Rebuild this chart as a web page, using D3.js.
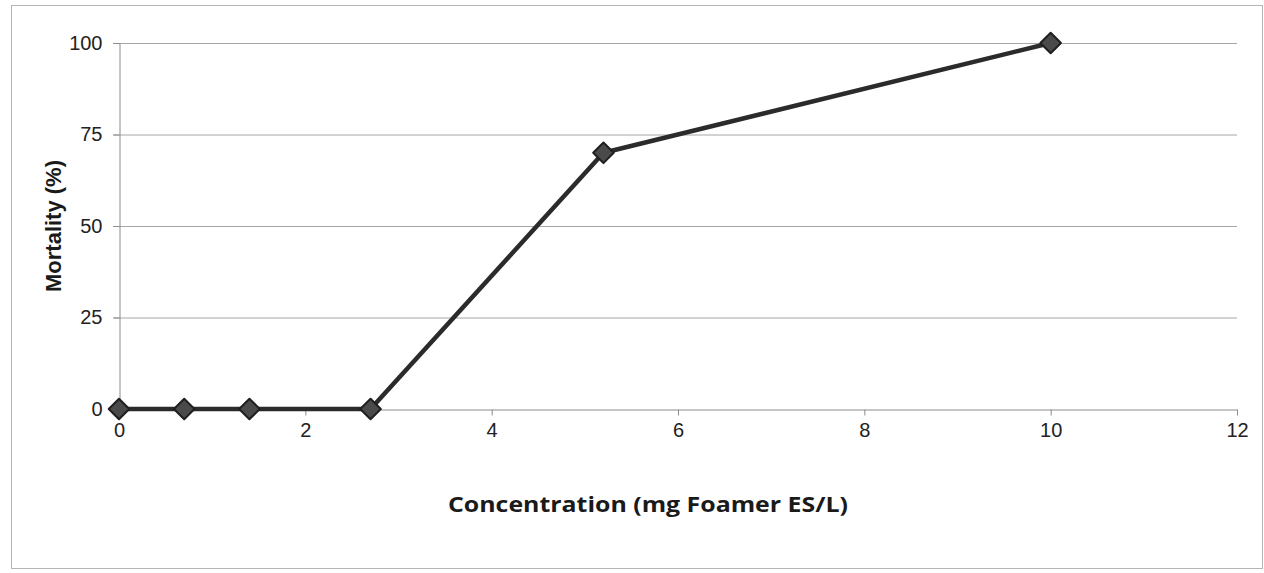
<!DOCTYPE html>
<html><head><meta charset="utf-8">
<script src="https://cdn.jsdelivr.net/npm/d3@7"></script>
<style>
html,body{margin:0;padding:0;background:#fff;}
svg{display:block;}
</style></head>
<body>
<script>
const concentration = [0, 0.7, 1.4, 2.7, 5.2, 10];
const mortality = [0, 0, 0, 0, 70, 100];
const xTicks = [0, 2, 4, 6, 8, 10, 12];
const yTicks = [0, 25, 50, 75, 100];
const xTitle = "Concentration (mg Foamer ES/L)";
const yTitle = "Mortality (%)";

const W = 1264, H = 573;
const svg = d3.select("body").append("svg").attr("width", W).attr("height", H);

// outer frame
svg.append("rect").attr("x", 11.5).attr("y", 5.5).attr("width", 1251).attr("height", 563)
  .attr("fill", "#fff").attr("stroke", "#b5b5b5").attr("stroke-width", 1);

const x = d3.scaleLinear().domain([0, 12]).range([119, 1237]);
const y = d3.scaleLinear().domain([0, 100]).range([409, 43]);

// gridlines
svg.append("g").selectAll("line").data(yTicks.filter(d => d > 0)).join("line")
  .attr("x1", 113).attr("x2", x(12)).attr("y1", d => y(d) + 0.5).attr("y2", d => y(d) + 0.5)
  .attr("stroke", "#a6a6a6").attr("stroke-width", 1);

// y axis
const yAxis = svg.append("g").attr("transform", `translate(${x(0) + 0.5},0)`)
  .call(d3.axisLeft(y).tickValues(yTicks).tickSize(6).tickPadding(11));
yAxis.select(".domain").attr("stroke", "#8c8c8c");
yAxis.selectAll(".tick line").attr("stroke", "#8c8c8c");
yAxis.selectAll("text").attr("font-family", "Liberation Sans, Arial, sans-serif")
  .attr("font-size", 20).attr("fill", "#222");

// x axis
const xAxis = svg.append("g").attr("transform", `translate(0,${y(0) + 0.5})`)
  .call(d3.axisBottom(x).tickValues(xTicks).tickSize(6).tickSizeOuter(0).tickPadding(7));
xAxis.select(".domain").attr("stroke", "#8c8c8c");
xAxis.selectAll(".tick line").attr("stroke", "#8c8c8c");
xAxis.selectAll("text").attr("font-family", "Liberation Sans, Arial, sans-serif")
  .attr("font-size", 20).attr("fill", "#222");

// line
const data = concentration.map((c, i) => ({c, m: mortality[i]}));
svg.append("path").datum(data)
  .attr("d", d3.line().x(d => x(d.c)).y(d => y(d.m)))
  .attr("fill", "none").attr("stroke", "#2b2b2b").attr("stroke-width", 4.5)
  .attr("stroke-linejoin", "round");

// markers
const sym = d3.symbol().type(d3.symbolDiamond2).size(270);
svg.append("g").selectAll("path").data(data).join("path")
  .attr("transform", d => `translate(${x(d.c)},${y(d.m)})`)
  .attr("d", sym)
  .attr("fill", "#4a4a4a").attr("stroke", "#1f1f1f").attr("stroke-width", 2)
  .attr("stroke-linejoin", "round");

// titles
svg.append("text").attr("x", 648).attr("y", 512).attr("text-anchor", "middle")
  .attr("font-family", "Open Sans, sans-serif").attr("font-weight", "bold")
  .attr("font-size", 22).attr("fill", "#1a1a1a")
  .attr("textLength", 400).attr("lengthAdjust", "spacingAndGlyphs").text(xTitle);

svg.append("text").attr("transform", "translate(61,226) rotate(-90)")
  .attr("text-anchor", "middle")
  .attr("font-family", "Liberation Sans, Arial, sans-serif").attr("font-weight", "bold")
  .attr("font-size", 22).attr("fill", "#1a1a1a")
  .attr("textLength", 132).attr("lengthAdjust", "spacingAndGlyphs").text(yTitle);
</script>
</body></html>
